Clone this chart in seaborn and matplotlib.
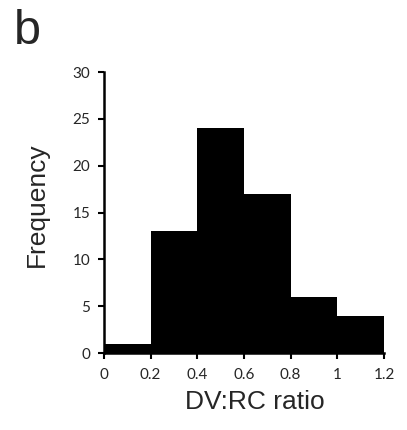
import numpy as np
import matplotlib
matplotlib.use("Agg")
import matplotlib.pyplot as plt
import seaborn as sns

# ── data ──────────────────────────────────────────────────────────────────────
bin_edges = [0.0, 0.2, 0.4, 0.6, 0.8, 1.0, 1.2]
counts = [1, 13, 24, 17, 6, 4]
x_ticks = [0, 0.2, 0.4, 0.6, 0.8, 1.0, 1.2]
x_tick_labels = ["0", "0.2", "0.4", "0.6", "0.8", "1", "1.2"]
y_ticks = [0, 5, 10, 15, 20, 25, 30]

sns.set_style("ticks")
plt.rcParams["font.family"] = ["Liberation Sans", "DejaVu Sans"]

fig = plt.figure(figsize=(4.07, 4.30), dpi=100)
ax = fig.add_axes([0.2555, 0.179, 0.688, 0.6535])

centers = [(a + b) / 2 for a, b in zip(bin_edges[:-1], bin_edges[1:])]
sns.histplot(x=centers, weights=counts, bins=bin_edges, color="black",
             edgecolor="black", linewidth=0, alpha=1, ax=ax)

ax.set_xlim(0, 1.2)
ax.set_ylim(0, 30)
ax.set_xticks(x_ticks)
ax.set_xticklabels(x_tick_labels)
ax.set_yticks(y_ticks)
for lbl in ax.get_xticklabels() + ax.get_yticklabels():
    lbl.set_family(["Lato", "DejaVu Sans"])
    lbl.set_fontsize(11)
ax.tick_params(axis="both", length=4, width=1.5, color="black")
ax.tick_params(axis="x", direction="out", pad=7)
ax.tick_params(axis="y", pad=6)

sns.despine(ax=ax)
for side in ["left", "bottom"]:
    ax.spines[side].set_linewidth(1.8)
    ax.spines[side].set_color("black")

ax.set_xlabel("")
ax.set_ylabel("")
fig.text(255 / 407, 1 - 402 / 430, "DV:RC ratio", fontsize=19,
         ha="center", va="center")
fig.text(37 / 407, 1 - 205 / 430, "Frequency", fontsize=19,
         ha="center", va="center", rotation=90)
fig.text(14 / 407, 1 - 44 / 430, "b", fontsize=35, ha="left", va="baseline")

fig.savefig("out.png", dpi=100)
